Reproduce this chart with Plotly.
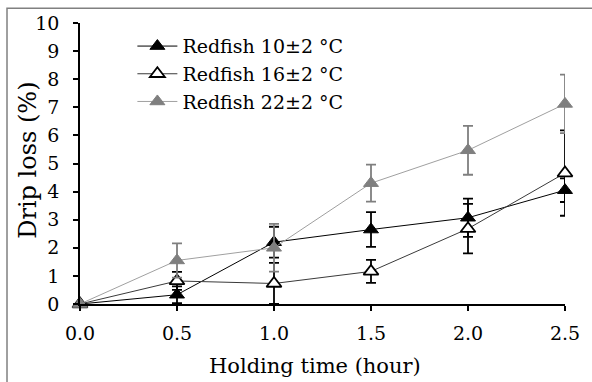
import plotly.graph_objects as go

hours = [0.0, 0.5, 1.0, 1.5, 2.0, 2.5]

loss_10 = [0.0, 0.33, 2.20, 2.65, 3.07, 4.05]
err_10 = [0.0, 0.30, 0.55, 0.62, 0.68, 0.42]

loss_16 = [0.0, 0.82, 0.73, 1.16, 2.68, 4.66]
err_16 = [0.0, 0.32, 0.73, 0.41, 0.88, 1.52]

loss_22 = [0.0, 1.55, 2.00, 4.30, 5.47, 7.12]
err_22 = [0.0, 0.61, 0.85, 0.66, 0.87, 1.04]

names = ["Redfish 10±2 °C", "Redfish 16±2 °C", "Redfish 22±2 °C"]

x_ticks = [0.0, 0.5, 1.0, 1.5, 2.0, 2.5]
x_labels = ["0.0", "0.5", "1.0", "1.5", "2.0", "2.5"]
y_ticks = list(range(0, 11))

x_title = "Holding time (hour)"
y_title = "Drip loss (%)"

FONT = "DejaVu Serif"

fig = go.Figure()

fig.add_trace(go.Scatter(
    x=hours, y=loss_10, name=names[0], mode="lines+markers",
    line=dict(color="black", width=1),
    marker=dict(symbol="triangle-up", size=13, color="black",
                line=dict(color="black", width=1)),
    error_y=dict(type="data", array=err_10, color="black", thickness=1.8, width=5),
    cliponaxis=False,
))
fig.add_trace(go.Scatter(
    x=hours, y=loss_16, name=names[1], mode="lines+markers",
    line=dict(color="#3a3a3a", width=1),
    marker=dict(symbol="triangle-up", size=13, color="white",
                line=dict(color="black", width=1.8)),
    error_y=dict(type="data", array=err_16, color="black", thickness=1.8, width=5),
    cliponaxis=False,
))
fig.add_trace(go.Scatter(
    x=hours, y=loss_22, name=names[2], mode="lines+markers",
    line=dict(color="#a0a0a0", width=1),
    marker=dict(symbol="triangle-up", size=13, color="#7f7f7f",
                line=dict(color="#7f7f7f", width=1)),
    error_y=dict(type="data", array=err_22, color="#7f7f7f", thickness=1.8, width=5),
    cliponaxis=False,
))

axis_common = dict(
    showgrid=False, zeroline=False, showline=True, linecolor="black",
    linewidth=1.5, ticks="outside", ticklen=5, tickwidth=1.5, tickcolor="black",
    tickfont=dict(family=FONT, size=19, color="black"),
)

fig.update_xaxes(range=[0, 2.5], tickvals=x_ticks, ticktext=x_labels,
                 ticklabelstandoff=6, **axis_common)
fig.update_yaxes(range=[0, 10], tickvals=y_ticks,
                 ticklabelstandoff=10, **axis_common)

# axis titles placed as annotations
fig.add_annotation(text=x_title, xref="paper", yref="paper",
                   x=0.4845, y=-0.222, xanchor="center", yanchor="middle",
                   showarrow=False, font=dict(family=FONT, size=21, color="black"))
fig.add_annotation(text=y_title, xref="paper", yref="paper",
                   x=-0.107, y=0.51, xanchor="center", yanchor="middle",
                   textangle=-90, showarrow=False,
                   font=dict(family=FONT, size=24, color="black"))

# outer chart frame
fig.add_shape(type="rect", xref="paper", yref="paper",
              x0=-0.1505, x1=1.3, y0=-0.5, y1=1.0528,
              line=dict(color="#808080", width=1.5), layer="below")

fig.update_layout(
    width=592, height=382,
    margin=dict(l=80, r=27, t=20, b=78),
    paper_bgcolor="white", plot_bgcolor="white",
    font=dict(family=FONT, color="black"),
    legend=dict(
        x=0.108, y=0.985, xanchor="left", yanchor="top",
        font=dict(family=FONT, size=19, color="black"),
        bgcolor="rgba(0,0,0,0)", itemwidth=40, tracegroupgap=0,
    ),
)

fig.write_html("out.html")
